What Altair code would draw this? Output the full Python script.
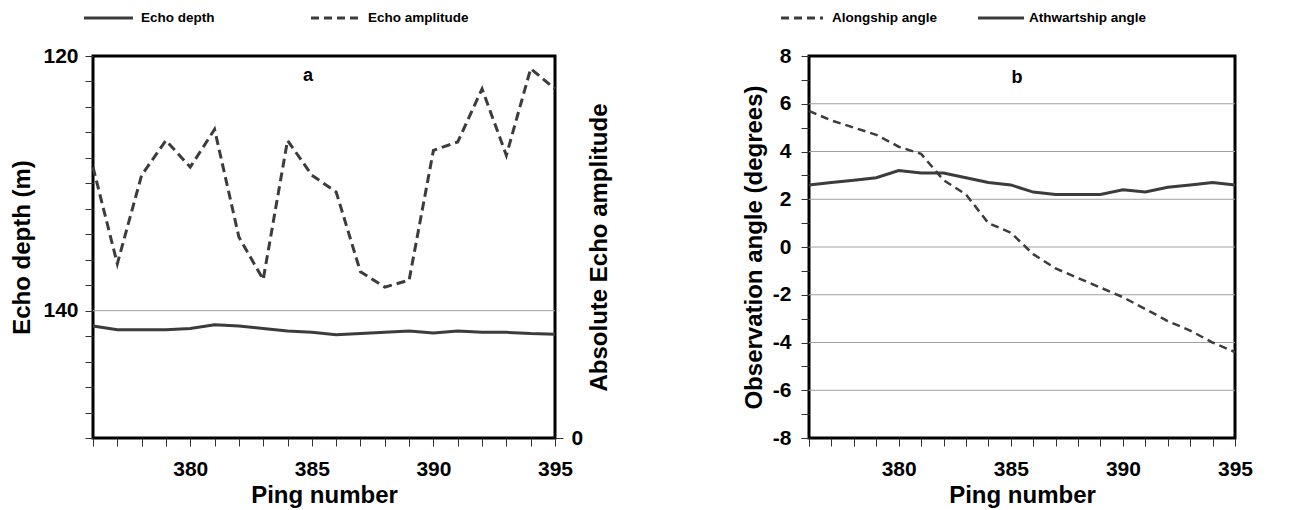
import altair as alt
import pandas as pd

# ---- data ----
pings = list(range(376, 396))
echo_depth = [141.2, 141.5, 141.5, 141.5, 141.4, 141.1, 141.2, 141.4, 141.6, 141.7,
              141.9, 141.8, 141.7, 141.6, 141.75, 141.6, 141.7, 141.7, 141.8, 141.85]
echo_amplitude = [70.9, 45.6, 68.8, 77.9, 70.9, 80.8, 52.6, 41.5, 77.9, 68.8,
                  64.4, 43.5, 39.5, 41.3, 75.3, 77.5, 91.4, 74.0, 96.7, 91.4]
alongship = [5.7, 5.3, 5.0, 4.7, 4.2, 3.9, 2.8, 2.2, 1.0, 0.6,
             -0.3, -0.9, -1.3, -1.7, -2.1, -2.6, -3.1, -3.5, -4.0, -4.4]
athwartship = [2.6, 2.7, 2.8, 2.9, 3.2, 3.1, 3.1, 2.9, 2.7, 2.6,
               2.3, 2.2, 2.2, 2.2, 2.4, 2.3, 2.5, 2.6, 2.7, 2.6]
depth_ticks = list(range(120, 151, 2))
depth_grid = [140]
angle_ticks = list(range(-8, 9))
angle_grid = [-6, -4, -2, 0, 2, 4, 6]
legend_a = ["Echo depth", "Echo amplitude"]
legend_b = ["Alongship angle", "Athwartship angle"]

FONT = "Liberation Sans"
LINE = "#3c3c3c"
GRID = "#a0a0a0"

def common_axis(**kw):
    base = dict(labelFont=FONT, titleFont=FONT, labelFontWeight="bold", titleFontWeight="bold",
                labelFontSize=21, titleFontSize=24, labelColor="black", titleColor="black",
                tickColor="#333333", tickWidth=1, tickSize=8, domain=False, grid=False,
                labelOverlap=False, labelFlush=False)
    base.update(kw)
    return alt.Axis(**base)

x_axis = common_axis(values=pings, title="Ping number",
                     labelExpr="datum.value % 5 == 0 ? datum.label : ''",
                     labelPadding=12, titlePadding=4)
x_scale = alt.Scale(domain=[376, 395], nice=False, zero=False)
x_enc = alt.X("ping:Q", scale=x_scale, axis=x_axis)

one = pd.DataFrame({"k": [0]})

def legend_item(x0, x1, tx, label, dash, y=-38):
    kw = dict(color=LINE, strokeWidth=3)
    if dash:
        kw["strokeDash"] = [8, 5]
    r = alt.Chart(one).mark_rule(**kw).encode(x=alt.value(x0), x2=alt.value(x1), y=alt.value(y))
    t = alt.Chart(one).mark_text(align="left", baseline="middle", font=FONT, fontWeight="bold",
                                 fontSize=13.5, color="black").encode(
        x=alt.value(tx), y=alt.value(y), text=alt.value(label))
    return [r, t]

def panel_label(x, y, s):
    return alt.Chart(one).mark_text(align="center", baseline="middle", font=FONT, fontWeight="bold",
                                    fontSize=18, color="black").encode(
        x=alt.value(x), y=alt.value(y), text=alt.value(s))

# ---- panel a ----
df_a = pd.DataFrame({"ping": pings, "depth": echo_depth, "amp": echo_amplitude})
depth_scale = alt.Scale(domain=[120, 150], reverse=True, nice=False, zero=False)
depth_axis = common_axis(values=depth_ticks, title="Echo depth (m)",
                         labelExpr="datum.value % 20 == 0 ? datum.label : ''",
                         labelPadding=7, titlePadding=8)
grid_a = alt.Chart(pd.DataFrame({"v": depth_grid})).mark_rule(color=GRID, strokeWidth=1).encode(
    y=alt.Y("v:Q", scale=depth_scale, axis=depth_axis))
depth_line = alt.Chart(df_a).mark_line(color=LINE, strokeWidth=3).encode(
    x=x_enc, y=alt.Y("depth:Q", scale=depth_scale, axis=depth_axis))
amp_axis = common_axis(values=[0], orient="right", title="Absolute Echo amplitude",
                       titleAngle=270, titleBaseline="top", labelPadding=8, titlePadding=5)
amp_line = alt.Chart(df_a).mark_line(color=LINE, strokeWidth=3, strokeDash=[9, 5]).encode(
    x=x_enc, y=alt.Y("amp:Q", scale=alt.Scale(domain=[0, 100], nice=False), axis=amp_axis))

inner_a = alt.layer(grid_a, depth_line,
                    *legend_item(-9, 40, 48, legend_a[0], False),
                    *legend_item(218, 266, 275, legend_a[1], True),
                    panel_label(215, 20, "a"))
panel_a = alt.layer(inner_a, amp_line).resolve_scale(y="independent").properties(width=462, height=382)

# ---- panel b ----
df_b = pd.DataFrame({"ping": pings, "along": alongship, "athw": athwartship})
angle_scale = alt.Scale(domain=[-8, 8], nice=False, zero=False)
angle_axis = common_axis(values=angle_ticks, title="Observation angle (degrees)",
                         labelExpr="datum.value % 2 == 0 ? '' + datum.value : ''",
                         labelPadding=10, titlePadding=6)
grid_b = alt.Chart(pd.DataFrame({"v": angle_grid})).mark_rule(color=GRID, strokeWidth=1).encode(
    y=alt.Y("v:Q", scale=angle_scale, axis=angle_axis))
along_line = alt.Chart(df_b).mark_line(color=LINE, strokeWidth=2.5, strokeDash=[8, 5]).encode(
    x=x_enc, y=alt.Y("along:Q", scale=angle_scale, axis=angle_axis))
athw_line = alt.Chart(df_b).mark_line(color=LINE, strokeWidth=3).encode(
    x=x_enc, y=alt.Y("athw:Q", scale=angle_scale, axis=angle_axis))

panel_b = alt.layer(grid_b, along_line, athw_line,
                    *legend_item(-28, 14, 23, legend_b[0], True),
                    *legend_item(169, 215, 220, legend_b[1], False),
                    panel_label(208, 22, "b")).properties(width=426, height=382)

chart = alt.hconcat(panel_a, panel_b, spacing=126).properties(
    padding={"left": 1, "top": 1, "right": 0, "bottom": 0}
).configure_view(stroke="black", strokeWidth=3)

chart.save("out.html", embed_options={"renderer": "svg", "actions": False})
